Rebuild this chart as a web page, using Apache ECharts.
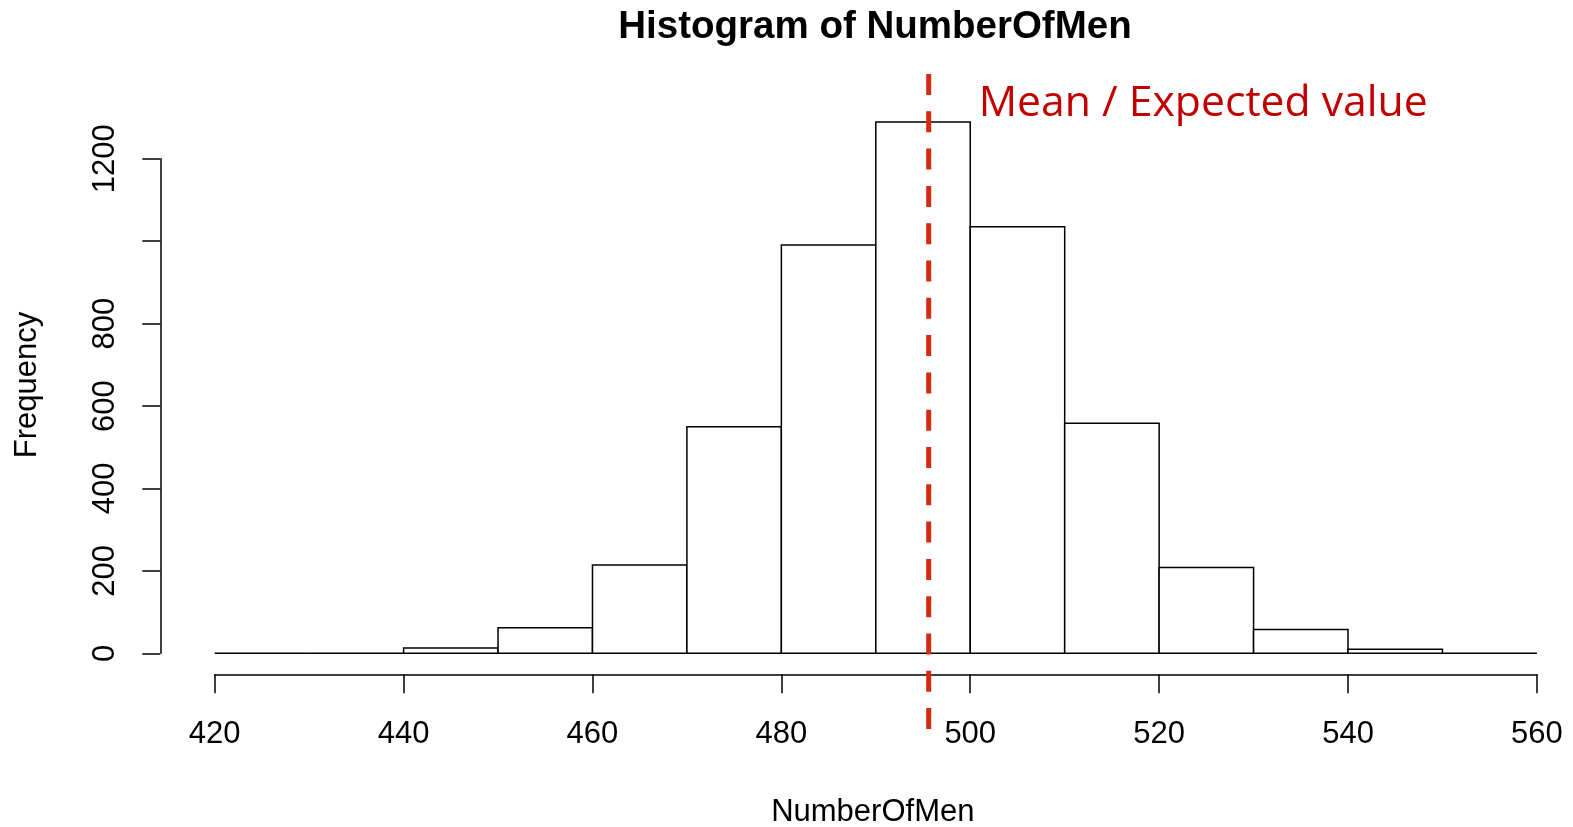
<!DOCTYPE html>
<html>
<head>
<meta charset="utf-8">
<script src="https://cdn.jsdelivr.net/npm/echarts@6/dist/echarts.min.js"></script>
<style>
  html, body { margin: 0; padding: 0; background: #fff; }
  #chart { width: 1573px; height: 827px; }
</style>
</head>
<body>
<div id="chart"></div>
<script>
// ---- data ----
const binStarts = [420, 430, 440, 450, 460, 470, 480, 490, 500, 510, 520, 530, 540, 550];
const binWidth = 10;
const counts = [0, 0, 13, 62, 214, 550, 991, 1289, 1035, 558, 208, 58, 10, 0];
const xTicks = [420, 440, 460, 480, 500, 520, 540, 560];
const yTicks = [0, 200, 400, 600, 800, 1000, 1200];
const yTickLabels = ['0', '200', '400', '600', '800', '', '1200'];
const meanValue = 495.6;
const titleText = 'Histogram of NumberOfMen';
const xName = 'NumberOfMen';
const yName = 'Frequency';
const meanLabel = 'Mean / Expected value';

const FONT = '"Liberation Sans", Arial, sans-serif';
const histData = binStarts.map((s, i) => [s, s + binWidth, counts[i]]);

const chart = echarts.init(document.getElementById('chart'), null, { renderer: 'canvas' });

chart.setOption({
  animation: false,
  backgroundColor: '#ffffff',
  title: {
    text: titleText,
    left: 870,
    top: 3,
    textAlign: 'center',
    textStyle: { fontFamily: FONT, fontWeight: 'bold', fontSize: 38.5, color: '#000' }
  },
  grid: { left: 214.7, right: 36.1, top: 158.8, bottom: 173.7, containLabel: false, outerBoundsMode: 'none' },
  xAxis: {
    type: 'value',
    min: xTicks[0],
    max: xTicks[xTicks.length - 1],
    interval: 20,
    offset: 21,
    name: xName,
    nameLocation: 'middle',
    nameGap: 123,
    nameTextStyle: { fontFamily: FONT, fontSize: 31, color: '#000', padding: [0, 6, 0, 0] },
    axisLine: { show: true, onZero: false, lineStyle: { color: '#000', width: 1.5 } },
    axisTick: { show: true, length: 19, lineStyle: { color: '#000', width: 1.5 } },
    axisLabel: { margin: 45, fontFamily: FONT, fontSize: 31, color: '#000',
                 showMinLabel: true, showMaxLabel: true },
    splitLine: { show: false }
  },
  yAxis: {
    type: 'value',
    min: yTicks[0],
    max: yTicks[yTicks.length - 1],
    interval: 200,
    offset: 54.4,
    name: yName,
    nameLocation: 'middle',
    nameGap: 117,
    nameRotate: 90,
    nameTextStyle: { fontFamily: FONT, fontSize: 31, color: '#000', padding: [0, 0, 0, 42] },
    axisLine: { show: true, onZero: false, lineStyle: { color: '#000', width: 1.5 } },
    axisTick: { show: true, length: 18, lineStyle: { color: '#000', width: 1.5 } },
    axisLabel: {
      rotate: 90,
      margin: 39,
      fontFamily: FONT, fontSize: 31, color: '#000',
      formatter: function (v) {
        const i = yTicks.indexOf(v);
        return i >= 0 ? yTickLabels[i] : '';
      }
    },
    splitLine: { show: false }
  },
  series: [
    {
      type: 'custom',
      clip: false,
      data: histData,
      encode: { x: [0, 1], y: 2 },
      renderItem: function (params, api) {
        const p0 = api.coord([api.value(0), 0]);
        const p1 = api.coord([api.value(1), api.value(2)]);
        return {
          type: 'rect',
          shape: { x: p0[0], y: p1[1], width: p1[0] - p0[0], height: p0[1] - p1[1] },
          style: { fill: '#ffffff', stroke: '#000000', lineWidth: 1.5 }
        };
      },
      z: 2
    },
    {
      type: 'custom',
      clip: false,
      data: [[meanValue]],
      encode: { x: 0 },
      renderItem: function (params, api) {
        const x = api.coord([api.value(0), 0])[0];
        return {
          type: 'group',
          children: [
            {
              type: 'line',
              shape: { x1: x, y1: 74, x2: x, y2: 729.5 },
              style: { stroke: '#D42A14', lineWidth: 5, lineDash: [21, 16.3] }
            },
            {
              type: 'text',
              x: x + 50,
              y: 104,
              style: {
                text: meanLabel,
                fill: '#C00000',
                font: '42.7px "Open Sans", sans-serif',
                verticalAlign: 'middle',
                align: 'left'
              }
            }
          ]
        };
      },
      z: 5
    }
  ]
});
</script>
</body>
</html>
